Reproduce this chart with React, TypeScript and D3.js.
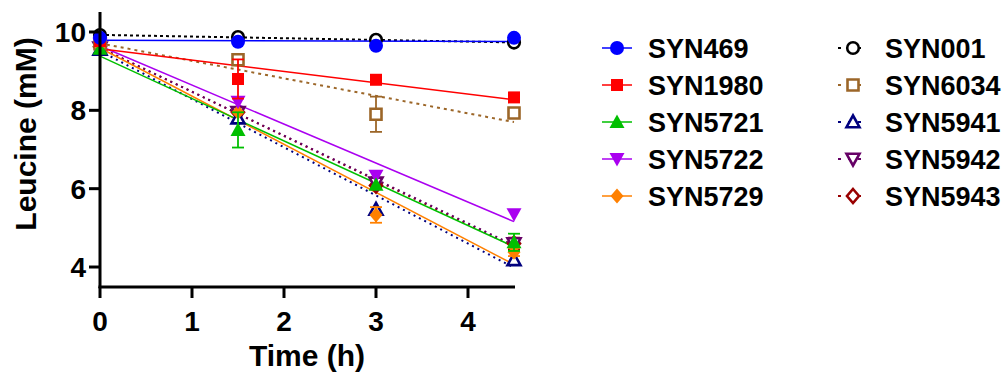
import React from "react";
import * as d3 from "d3";

const times = [0, 1.5, 3, 4.5];
const xTicks = [0, 1, 2, 3, 4];
const yTicks = [4, 6, 8, 10];

const names = ["SYN469", "SYN1980", "SYN5721", "SYN5722", "SYN5729", "SYN001", "SYN6034", "SYN5941", "SYN5942", "SYN5943"];
const colors = ["#0000ff", "#ff0000", "#00bf00", "#aa00f0", "#ff8000", "#000000", "#9c6628", "#00007f", "#660066", "#990000"];
const shapes = ["circle", "square", "triUp", "triDown", "diamond", "circle", "square", "triUp", "triDown", "diamond"];
const open = [false, false, false, false, false, true, true, true, true, true];

const SYN469 = [9.85, 9.75, 9.65, 9.85];
const SYN1980 = [9.77, 8.8, 8.78, 8.33];
const SYN5721 = [9.57, 7.5, 6.1, 4.63];
const SYN5722 = [9.7, 8.22, 6.33, 5.35];
const SYN5729 = [9.65, 7.95, 5.33, 4.38];
const SYN001 = [9.92, 9.87, 9.8, 9.73];
const SYN6034 = [9.7, 9.29, 7.9, 7.93];
const SYN5941 = [9.55, 7.8, 5.47, 4.18];
const SYN5942 = [9.6, 7.95, 6.15, 4.6];
const SYN5943 = [9.62, 7.95, 6.08, 4.6];
const values = [SYN469, SYN1980, SYN5721, SYN5722, SYN5729, SYN001, SYN6034, SYN5941, SYN5942, SYN5943];

const ERR469 = [0, 0, 0, 0];
const ERR1980 = [0, 0.5, 0, 0];
const ERR5721 = [0, 0.45, 0, 0.22];
const ERR5722 = [0, 0, 0, 0];
const ERR5729 = [0, 0, 0.2, 0.1];
const ERR001 = [0, 0, 0, 0];
const ERR6034 = [0, 0, 0.45, 0];
const ERR5941 = [0, 0, 0, 0];
const ERR5942 = [0, 0, 0, 0.12];
const ERR5943 = [0, 0, 0, 0.15];
const errors = [ERR469, ERR1980, ERR5721, ERR5722, ERR5729, ERR001, ERR6034, ERR5941, ERR5942, ERR5943];

const FONT = "'Liberation Sans', Arial, Helvetica, sans-serif";

function markerPath(shape: string, cx: number, cy: number, isOpen: boolean): string {
  const p = d3.path();
  if (shape === "circle") {
    const r = isOpen ? 5.8 : 7;
    p.moveTo(cx + r, cy);
    p.arc(cx, cy, r, 0, Math.PI * 2);
    p.closePath();
  } else if (shape === "square") {
    const h = isOpen ? 5.5 : 6;
    p.rect(cx - h, cy - h, 2 * h, 2 * h);
  } else if (shape === "triUp") {
    const w = isOpen ? 6.5 : 7.5;
    const hh = isOpen ? 6.5 : 7.5;
    p.moveTo(cx, cy - hh);
    p.lineTo(cx + w, cy + hh * 0.8);
    p.lineTo(cx - w, cy + hh * 0.8);
    p.closePath();
  } else if (shape === "triDown") {
    const w = isOpen ? 6.5 : 7.5;
    const hh = isOpen ? 6.5 : 7.5;
    p.moveTo(cx, cy + hh);
    p.lineTo(cx + w, cy - hh * 0.8);
    p.lineTo(cx - w, cy - hh * 0.8);
    p.closePath();
  } else {
    const w = isOpen ? 6 : 6.5;
    const hh = isOpen ? 7 : 7.5;
    p.moveTo(cx, cy - hh);
    p.lineTo(cx + w, cy);
    p.lineTo(cx, cy + hh);
    p.lineTo(cx - w, cy);
    p.closePath();
  }
  return p.toString();
}

function fit(ys: number[]) {
  const mx = d3.mean(times) as number;
  const my = d3.mean(ys) as number;
  let sxy = 0;
  let sxx = 0;
  times.forEach((t, i) => {
    sxy += (t - mx) * (ys[i] - my);
    sxx += (t - mx) * (t - mx);
  });
  const slope = sxy / sxx;
  const b = my - slope * mx;
  return (t: number) => b + slope * t;
}

export default function App() {
  const width = 1005;
  const height = 386;
  const x = d3.scaleLinear().domain([0, 4.5]).range([100, 514]);
  const y = d3.scaleLinear().domain([3.5, 10.5]).range([286.6, 12.4]);
  const order = d3.range(names.length).reverse();
  const dashFor = (i: number) => (i === 5 ? "3,3" : i === 6 ? "3,4" : "2,4");
  const legendRows = [48, 85, 122, 159, 196];

  return (
    <svg width={width} height={height} style={{ position: "absolute", left: 0, top: 0 }} fontFamily={FONT}>
      <rect width={width} height={height} fill="#fff" />
      {/* fit lines */}
      {order.map((i) => {
        const f = fit(values[i]);
        return (
          <line
            key={"f" + i}
            x1={x(0)}
            x2={x(4.5)}
            y1={y(f(0))}
            y2={y(f(4.5))}
            stroke={colors[i]}
            strokeWidth={open[i] ? 2 : 1.5}
            strokeDasharray={open[i] ? dashFor(i) : undefined}
          />
        );
      })}
      {/* error bars + markers */}
      {order.map((i) => (
        <g key={"s" + i}>
          {times.map((t, j) =>
            errors[i][j] > 0 ? (
              <g key={j} stroke={colors[i]} strokeWidth={1.8}>
                <line x1={x(t)} x2={x(t)} y1={y(values[i][j] + errors[i][j])} y2={y(values[i][j] - errors[i][j])} />
                <line x1={x(t) - 6} x2={x(t) + 6} y1={y(values[i][j] + errors[i][j])} y2={y(values[i][j] + errors[i][j])} />
                <line x1={x(t) - 6} x2={x(t) + 6} y1={y(values[i][j] - errors[i][j])} y2={y(values[i][j] - errors[i][j])} />
              </g>
            ) : null
          )}
          {times.map((t, j) => (
            <path
              key={"m" + j}
              d={markerPath(shapes[i], x(t), y(values[i][j]), open[i])}
              fill={open[i] ? "#fff" : colors[i]}
              stroke={colors[i]}
              strokeWidth={open[i] ? 2.6 : 0}
            />
          ))}
        </g>
      ))}
      {/* axes */}
      <g stroke="#000" strokeWidth={3} fill="none">
        <line x1={100} x2={100} y1={12} y2={288} />
        <line x1={98.5} x2={515} y1={287} y2={287} />
        {yTicks.map((v) => (
          <line key={"yt" + v} x1={89} x2={100} y1={y(v)} y2={y(v)} />
        ))}
        {xTicks.map((v) => (
          <line key={"xt" + v} x1={x(v)} x2={x(v)} y1={287} y2={298} />
        ))}
      </g>
      {yTicks.map((v) => (
        <text key={"yl" + v} x={86} y={y(v)} dy="0.36em" textAnchor="end" fontSize={28} fontWeight="bold">
          {v}
        </text>
      ))}
      {xTicks.map((v) => (
        <text key={"xl" + v} x={x(v)} y={331} textAnchor="middle" fontSize={28} fontWeight="bold">
          {v}
        </text>
      ))}
      <text x={307} y={366} textAnchor="middle" fontSize={30} fontWeight="bold">
        Time (h)
      </text>
      <text transform="translate(36,134) rotate(-90)" textAnchor="middle" fontSize={30} fontWeight="bold">
        Leucine (mM)
      </text>
      {/* legend */}
      {names.map((n, i) => {
        const col = i < 5 ? 0 : 1;
        const row = i % 5;
        const ly = legendRows[row];
        const mx = col === 0 ? 617 : 853;
        const tx = col === 0 ? 648 : 885;
        return (
          <g key={"lg" + i}>
            <line
              x1={mx - 15}
              x2={mx + 15}
              y1={ly}
              y2={ly}
              stroke={colors[i]}
              strokeWidth={open[i] ? 2 : 1.5}
              strokeDasharray={open[i] ? "3,7" : undefined}
            />
            <path
              d={markerPath(shapes[i], mx, ly, open[i])}
              fill={open[i] ? "#fff" : colors[i]}
              stroke={colors[i]}
              strokeWidth={open[i] ? 2.6 : 0}
            />
            <text x={tx} y={ly} dy="0.36em" fontSize={27} fontWeight="bold">
              {n}
            </text>
          </g>
        );
      })}
    </svg>
  );
}
